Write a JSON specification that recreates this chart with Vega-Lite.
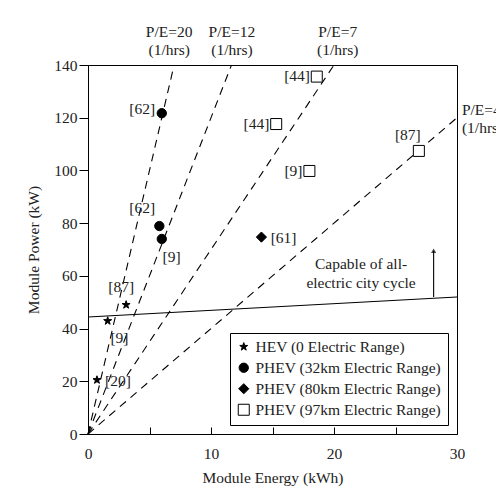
{
  "$schema": "https://vega.github.io/schema/vega-lite/v6.json",
  "autosize": {"type": "none"},
  "padding": {"left": 88, "top": 65, "right": 39, "bottom": 57},
  "width": 369,
  "height": 369,
  "background": "white",
  "config": {
    "font": "Liberation Serif",
    "view": {"stroke": "black", "strokeWidth": 1},
    "axis": {
      "labelFont": "Liberation Serif",
      "titleFont": "Liberation Serif",
      "labelFontSize": 15.5,
      "titleFontSize": 15.5,
      "titleFontWeight": "normal",
      "labelColor": "#222",
      "titleColor": "#222",
      "domainColor": "black",
      "tickColor": "black",
      "grid": false
    },
    "legend": {
      "labelFont": "Liberation Serif",
      "labelFontSize": 15.5,
      "labelColor": "#222",
      "labelLimit": 0
    }
  },
  "datasets": {
    "pts": [
      {"E": 0.73, "P": 20.5, "type": "HEV (0 Electric Range)"},
      {"E": 1.6, "P": 42.9, "type": "HEV (0 Electric Range)"},
      {"E": 3.1, "P": 49.0, "type": "HEV (0 Electric Range)"},
      {"E": 6.0, "P": 121.7, "type": "PHEV (32km Electric Range)"},
      {"E": 5.8, "P": 78.9, "type": "PHEV (32km Electric Range)"},
      {"E": 6.0, "P": 74.0, "type": "PHEV (32km Electric Range)"},
      {"E": 14.1, "P": 74.7, "type": "PHEV (80km Electric Range)"},
      {"E": 18.6, "P": 135.6, "type": "PHEV (97km Electric Range)"},
      {"E": 15.3, "P": 117.6, "type": "PHEV (97km Electric Range)"},
      {"E": 18.0, "P": 99.8, "type": "PHEV (97km Electric Range)"},
      {"E": 26.9, "P": 107.4, "type": "PHEV (97km Electric Range)"}
    ],
    "rays": [
      {"line": "20", "E": 0, "P": 0}, {"line": "20", "E": 7, "P": 140},
      {"line": "12", "E": 0, "P": 0}, {"line": "12", "E": 11.667, "P": 140},
      {"line": "7", "E": 0, "P": 0}, {"line": "7", "E": 20, "P": 140},
      {"line": "4", "E": 0, "P": 0}, {"line": "4", "E": 30, "P": 120}
    ],
    "threshold": [
      {"E": 0, "P": 44.4}, {"E": 30, "P": 52.0}
    ],
    "labels": [
      {"E": 4.4, "P": 123.3, "t": "[62]"},
      {"E": 17.0, "P": 135.8, "t": "[44]"},
      {"E": 13.7, "P": 117.6, "t": "[44]"},
      {"E": 26.0, "P": 113.4, "t": "[87]"},
      {"E": 16.7, "P": 99.9, "t": "[9]"},
      {"E": 4.4, "P": 85.9, "t": "[62]"},
      {"E": 6.8, "P": 67.3, "t": "[9]"},
      {"E": 15.9, "P": 74.5, "t": "[61]"},
      {"E": 2.7, "P": 55.9, "t": "[87]"},
      {"E": 2.56, "P": 36.3, "t": "[9]"},
      {"E": 2.44, "P": 20.2, "t": "[20]"},
      {"E": 22.2, "P": 64.4, "t": "Capable of all-"},
      {"E": 22.2, "P": 57.2, "t": "electric city cycle"},
      {"E": 6.6, "P": 152.5, "t": "P/E=20"},
      {"E": 6.6, "P": 145.7, "t": "(1/hrs)"},
      {"E": 11.7, "P": 152.5, "t": "P/E=12"},
      {"E": 11.7, "P": 145.7, "t": "(1/hrs)"},
      {"E": 20.3, "P": 152.5, "t": "P/E=7"},
      {"E": 20.3, "P": 145.7, "t": "(1/hrs)"}
    ],
    "sidelabels": [
      {"E": 30.4, "P": 122.9, "t": "P/E=4"},
      {"E": 30.4, "P": 116.0, "t": "(1/hrs)"}
    ],
    "arrow": [
      {"E": 28.1, "P": 52.0, "P2": 69.5}
    ]
  },
  "encoding": {
    "x": {
      "field": "E", "type": "quantitative",
      "scale": {"domain": [0, 30], "nice": false, "zero": false},
      "axis": {
        "title": "Module Energy (kWh)",
        "values": [0, 5, 10, 15, 20, 25, 30],
        "labelExpr": "datum.value % 10 === 0 ? datum.label : ''",
        "tickSize": -7,
        "labelPadding": 19,
        "titlePadding": 9,
        "labelFlush": false
      }
    },
    "y": {
      "field": "P", "type": "quantitative",
      "scale": {"domain": [0, 140], "nice": false, "zero": false},
      "axis": {
        "title": "Module Power (kW)",
        "values": [0, 20, 40, 60, 80, 100, 120, 140],
        "tickSize": 9,
        "labelPadding": 2,
        "titlePadding": 12
      }
    }
  },
  "layer": [
    {
      "data": {"name": "rays"},
      "mark": {"type": "line", "color": "black", "strokeWidth": 1.1, "strokeDash": [8, 6]},
      "encoding": {"detail": {"field": "line", "type": "nominal"}}
    },
    {
      "data": {"name": "threshold"},
      "mark": {"type": "line", "color": "black", "strokeWidth": 1.1}
    },
    {
      "data": {"name": "arrow"},
      "mark": {"type": "rule", "color": "black", "strokeWidth": 1.1},
      "encoding": {"y2": {"field": "P2"}}
    },
    {
      "data": {"name": "arrow"},
      "mark": {"type": "point", "shape": "triangle-up", "filled": true, "color": "black", "size": 28},
      "encoding": {"y": {"field": "P2", "type": "quantitative"}}
    },
    {
      "data": {"name": "pts"},
      "mark": {"type": "point", "filled": true, "stroke": "black", "strokeWidth": 1, "opacity": 1},
      "encoding": {
        "shape": {
          "field": "type", "type": "nominal",
          "scale": {
            "domain": ["HEV (0 Electric Range)", "PHEV (32km Electric Range)", "PHEV (80km Electric Range)", "PHEV (97km Electric Range)"],
            "range": ["M0,-1L0.235,-0.324L0.951,-0.309L0.380,0.124L0.588,0.809L0,0.4L-0.588,0.809L-0.380,0.124L-0.951,-0.309L-0.235,-0.324Z", "circle", "diamond", "square"]
          },
          "legend": {
            "title": null,
            "orient": "bottom-right",
            "offset": 9,
            "strokeColor": "black",
            "fillColor": "white",
            "padding": 6,
            "rowPadding": 4,
            "labelOffset": 4,
            "labelLimit": 0,
            "symbolStrokeWidth": 1
          }
        },
        "fill": {
          "field": "type", "type": "nominal",
          "scale": {
            "domain": ["HEV (0 Electric Range)", "PHEV (32km Electric Range)", "PHEV (80km Electric Range)", "PHEV (97km Electric Range)"],
            "range": ["black", "black", "black", "white"]
          },
          "legend": {"title": null}
        },
        "size": {
          "field": "type", "type": "nominal",
          "scale": {
            "domain": ["HEV (0 Electric Range)", "PHEV (32km Electric Range)", "PHEV (80km Electric Range)", "PHEV (97km Electric Range)"],
            "range": [70, 121, 55, 70]
          },
          "legend": {"title": null}
        }
      }
    },
    {
      "data": {"name": "labels"},
      "mark": {"type": "text", "font": "Liberation Serif", "fontSize": 15.5, "color": "#222", "align": "center", "baseline": "middle"},
      "encoding": {"text": {"field": "t", "type": "nominal"}}
    },
    {
      "data": {"name": "sidelabels"},
      "mark": {"type": "text", "font": "Liberation Serif", "fontSize": 15.5, "color": "#222", "align": "left", "baseline": "middle"},
      "encoding": {"text": {"field": "t", "type": "nominal"}}
    }
  ]
}
